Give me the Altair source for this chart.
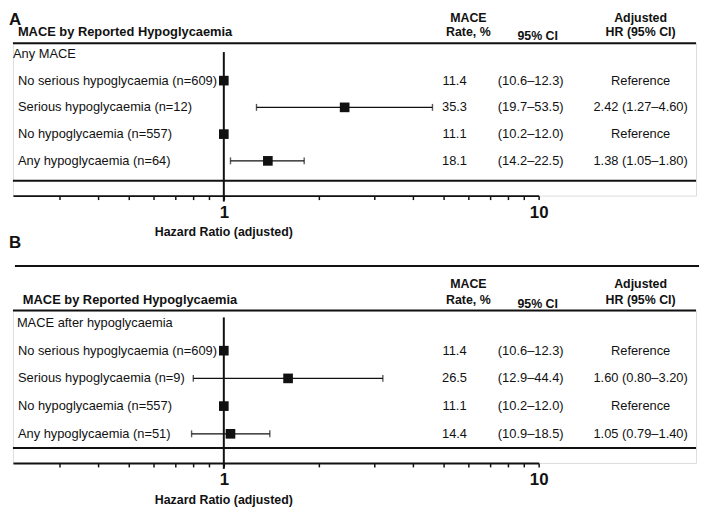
import altair as alt
import pandas as pd

INK = "#111111"
FONT = "Liberation Sans"

TICK_VALUES = [0.3, 0.4, 0.5, 0.6, 0.7, 0.8, 0.9, 1, 2, 3, 4, 5, 6, 7, 8, 9, 10]

# Panel A
A_LABELS = ["Any MACE", "No serious hypoglycaemia (n=609)", "Serious hypoglycaemia (n=12)",
            "No hypoglycaemia (n=557)", "Any hypoglycaemia (n=64)"]
A_RATE = ["", "11.4", "35.3", "11.1", "18.1"]
A_CI = ["", "(10.6–12.3)", "(19.7–53.5)", "(10.2–12.0)", "(14.2–22.5)"]
A_HRTXT = ["", "Reference", "2.42 (1.27–4.60)", "Reference", "1.38 (1.05–1.80)"]
A_HR = [None, 1.0, 2.42, 1.0, 1.38]
A_LO = [None, None, 1.27, None, 1.05]
A_HI = [None, None, 4.60, None, 1.80]

# Panel B
B_LABELS = ["MACE after hypoglycaemia", "No serious hypoglycaemia (n=609)", "Serious hypoglycaemia (n=9)",
            "No hypoglycaemia (n=557)", "Any hypoglycaemia (n=51)"]
B_RATE = ["", "11.4", "26.5", "11.1", "14.4"]
B_CI = ["", "(10.6–12.3)", "(12.9–44.4)", "(10.2–12.0)", "(10.9–18.5)"]
B_HRTXT = ["", "Reference", "1.60 (0.80–3.20)", "Reference", "1.05 (0.79–1.40)"]
B_HR = [None, 1.0, 1.60, 1.0, 1.05]
B_LO = [None, None, 0.80, None, 0.79]
B_HI = [None, None, 3.20, None, 1.40]

TITLE = "MACE by Reported Hypoglycaemia"
XTITLE = "Hazard Ratio (adjusted)"

W = 690
H = 154


def xenc(field):
    return alt.X(
        f"{field}:Q",
        title=None,
        scale=alt.Scale(type="log", domain=[0.2139, 10], range=[0, 531], nice=False),
        axis=alt.Axis(
            values=TICK_VALUES,
            labelExpr="datum.value == 1 ? '1' : (datum.value == 10 ? '10' : '')",
            grid=False, domainColor=INK, domainWidth=2, tickColor=INK, tickWidth=1.5,
            tickSize=4, labelFont=FONT, labelFontSize=17, labelFontWeight="bold",
            labelColor=INK, labelPadding=5, labelOverlap=False, labelBound=False,
            labelFlush=False,
        ),
    )


def one():
    return alt.Chart(pd.DataFrame({"k": [0]}))


def txt(text, x, y, size=13, bold=False, align="center"):
    return one().mark_text(text=text, align=align, baseline="middle", fontSize=size,
                           fontWeight="bold" if bold else "normal", font=FONT, color=INK).encode(
        x=alt.value(x), y=alt.value(y))


def hline(y, x1, x2, w=2):
    return one().mark_rule(color=INK, strokeWidth=w).encode(
        x=alt.value(x1), x2=alt.value(x2), y=alt.value(y))


def panel(letter, labels, rate, ci, hrtxt, hr, lo, hi, ydomain, title_dx, group_dx,
          letter_y, head_y, top_line, ref_top):
    df = pd.DataFrame({"row": list(range(len(labels))), "label": labels, "rate": rate,
                       "ci": ci, "hrtxt": hrtxt, "hr": hr, "lo": lo, "hi": hi})
    base = alt.Chart(df)
    y = alt.Y("row:Q", scale=alt.Scale(domain=ydomain, reverse=True, nice=False, zero=False),
              axis=None)
    sub = base.transform_filter("datum.row > 0")
    ci_rows = base.transform_filter("isValid(datum.lo)")
    layers = [
        hline(0, 0, W),
        hline(139, 0, W),
        alt.Chart(pd.DataFrame({"hr": [1.0]})).mark_rule(color=INK, strokeWidth=2).encode(
            x=xenc("hr"), y=alt.value(ref_top), y2=alt.value(160)),
        ci_rows.mark_rule(color=INK, strokeWidth=1.4).encode(x=xenc("lo"), x2="hi:Q", y=y),
        ci_rows.mark_tick(orient="vertical", size=7, thickness=1.4, color=INK).encode(
            x=xenc("lo"), y=y),
        ci_rows.mark_tick(orient="vertical", size=7, thickness=1.4, color=INK).encode(
            x=xenc("hi"), y=y),
        base.transform_filter("isValid(datum.hr)").mark_square(
            size=95, opacity=1, color=INK).encode(x=xenc("hr"), y=y),
        base.transform_filter("datum.row == 0").mark_text(
            align="left", baseline="middle", fontSize=13, font=FONT, color=INK).encode(
            x=alt.value(group_dx), y=y, text="label:N"),
        sub.mark_text(align="left", baseline="middle", fontSize=13, font=FONT, color=INK).encode(
            x=alt.value(5), y=y, text="label:N"),
        sub.mark_text(align="center", baseline="middle", fontSize=13, font=FONT, color=INK).encode(
            x=alt.value(446), y=y, text="rate:N"),
        sub.mark_text(align="center", baseline="middle", fontSize=13, font=FONT, color=INK).encode(
            x=alt.value(523), y=y, text="ci:N"),
        sub.mark_text(align="center", baseline="middle", fontSize=13, font=FONT, color=INK).encode(
            x=alt.value(634), y=y, text="hrtxt:N"),
        txt(TITLE, title_dx, -11, size=13, bold=True, align="left"),
        txt("MACE", 460, head_y, size=12.5, bold=True),
        txt("Rate, %", 460, -11, size=12.5, bold=True),
        txt("95% CI", 530, -7, size=12.5, bold=True),
        txt("Adjusted", 634, head_y, size=12.5, bold=True),
        txt("HR (95% CI)", 634, -11, size=12.5, bold=True),
        txt(XTITLE, 213, 191, size=12.5, bold=True),
        txt(letter, -4, letter_y, size=17, bold=True, align="left"),
    ]
    if top_line:
        layers.insert(0, hline(-45, 2, W + 3))
    return alt.layer(*layers).properties(width=W, height=H)


pa = panel("A", A_LABELS, A_RATE, A_CI, A_HRTXT, A_HR, A_LO, A_HI,
           [-0.4, 5.3], 5, 0, -23, -25, False, 9)
pb = panel("B", B_LABELS, B_RATE, B_CI, B_HRTXT, B_HR, B_LO, B_HI,
           [-0.45, 5.05], 10, 4, -68, -27, True, 7)

chart = alt.vconcat(pa, pb, spacing=116, bounds="flush").properties(padding=0).configure_view(
    stroke=None).configure(font=FONT)

chart.save("out.html", embed_options={"renderer": "svg", "actions": False})
